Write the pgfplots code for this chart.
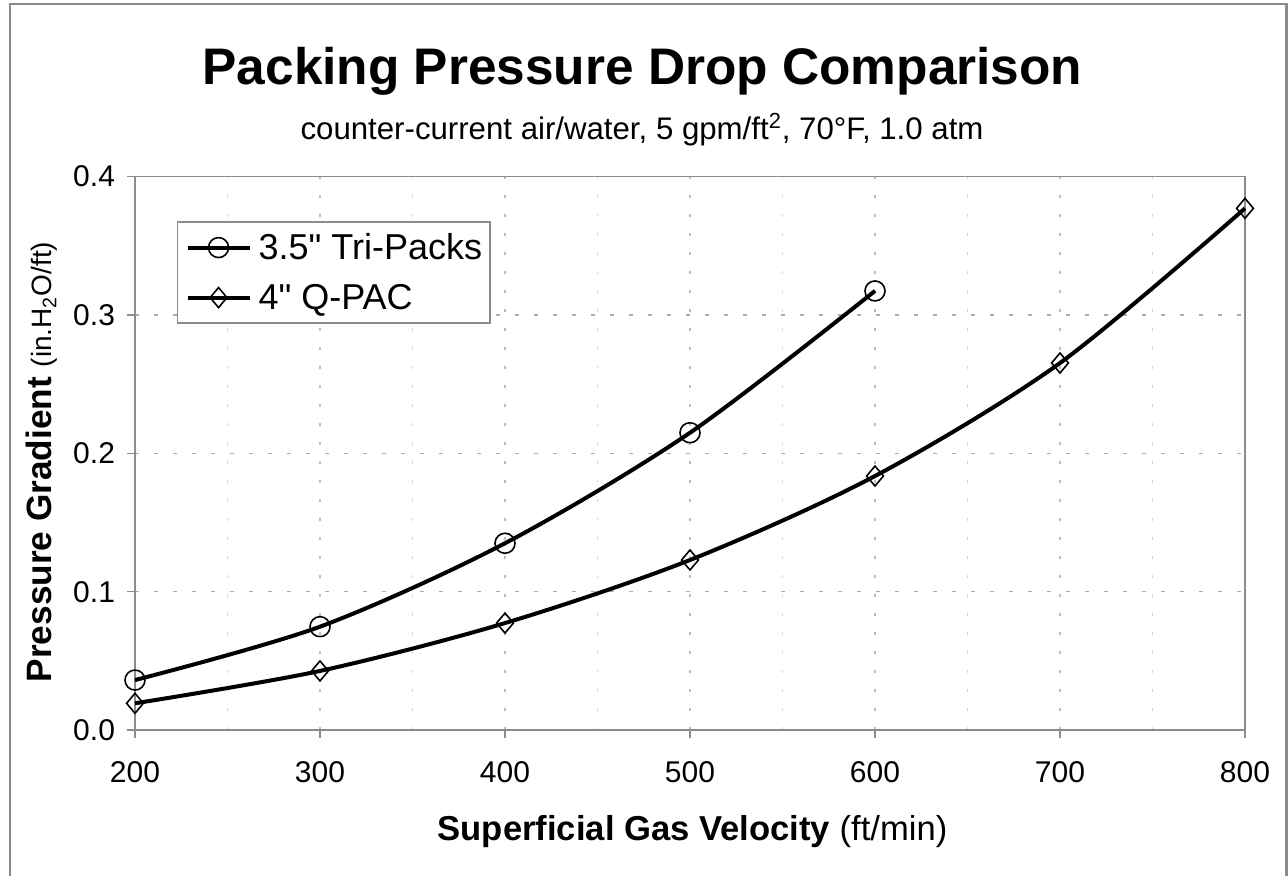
\documentclass[border=0pt]{standalone}
\usepackage{fontspec}
\setmainfont{Liberation Sans}[Ligatures=TeXOff]
\usepackage{pgfplots}
\pgfplotsset{compat=1.18}

\definecolor{axgray}{HTML}{8C8C8C}
\definecolor{gridmaj}{HTML}{ABABAB}
\definecolor{gridxmaj}{HTML}{BDBDBD}
\definecolor{gridmin}{HTML}{D5D5D5}

\begin{document}
\begin{tikzpicture}
\useasboundingbox (-67.5pt,-72.5pt) rectangle (576.5pt,365pt);
\fill[white] (-67.5pt,-72.5pt) rectangle (576.5pt,365pt);
\draw[axgray, line width=1.3pt] (-62.5pt,-80pt) -- (-62.5pt,363pt) -- (575.8pt,363pt) -- (575.8pt,-80pt);
\begin{axis}[
  at={(0,0)}, anchor=south west,
  width=555pt, height=276.67pt, scale only axis,
  xmin=200, xmax=800, ymin=0, ymax=0.4,
  clip=false,
  xtick={200,300,400,500,600,700,800},
  minor xtick={250,350,450,550,650,750},
  ytick={0,0.1,0.2,0.3,0.4},
  yticklabel style={/pgf/number format/fixed, /pgf/number format/fixed zerofill, /pgf/number format/precision=1, xshift=-2.5pt},
  /pgf/number format/assume math mode=true,
  ticklabel style={font=\fontsize{15}{17}\selectfont},
  xticklabel style={yshift=-8pt},
  tick pos=left,
  tick align=outside,
  major tick length=4pt,
  minor tick length=0pt,
  tick style={axgray, line width=0.7pt},
  axis line style={axgray, line width=0.7pt},
  xmajorgrids, xminorgrids, ymajorgrids,
  major x grid style={gridxmaj, line width=0.6pt, dash pattern=on 1.6pt off 7.9pt},
  minor x grid style={gridmin, line width=0.6pt, dash pattern=on 1.6pt off 7.9pt},
  major y grid style={gridmaj, line width=0.6pt, dash pattern=on 2pt off 7.5pt},
  legend style={at={(0.0378,0.919)}, anchor=north west, draw=axgray, line width=0.6pt,
    fill=white, font=\fontsize{18}{20}\selectfont, inner xsep=4pt, inner ysep=0.25pt,
    row sep=0pt, column sep=3.5pt,
    nodes={inner sep=0pt, text height=18.5pt, text depth=6.5pt}},
  legend cell align=left,
  legend image code/.code={\draw[mark repeat=2,mark phase=2] plot coordinates {(-2pt,0pt)(13.5pt,0pt)(29pt,0pt)};},
]
\addplot[black, line width=2pt, smooth, mark=o, mark size=5pt, mark options={line width=0.8pt, solid}]
  coordinates {(200,0.0361)(300,0.0747)(400,0.135)(500,0.2149)(600,0.3174)};
\addlegendentry{3.5" Tri-Packs}
\addplot[black, line width=2pt, smooth, mark=diamond, mark size=5pt, mark options={line width=0.8pt, solid, xscale=1.12}]
  coordinates {(200,0.0193)(300,0.0427)(400,0.0773)(500,0.1229)(600,0.1836)(700,0.2653)(800,0.3771)};
\addlegendentry{4" Q-PAC}
\end{axis}
\node[anchor=base, font=\fontsize{25.7}{30}\selectfont\bfseries] at (253.75pt,323pt) {Packing Pressure Drop Comparison};
\node[anchor=base, font=\fontsize{15.6}{18}\selectfont] at (253.5pt,295.5pt) {counter-current air/water, 5 gpm/ft\textsuperscript{2}, 70°F, 1.0 atm};
\node[anchor=base, font=\fontsize{17.3}{20}\selectfont] at (278.75pt,-55pt) {\textbf{Superficial Gas Velocity} (ft/min)};
\node[anchor=base, rotate=90, font=\fontsize{17.6}{20}\selectfont] at (-41.5pt,134pt) {\textbf{Pressure Gradient} {\fontsize{14}{16}\selectfont (in.H\textsubscript{2}O/ft)}};
\end{tikzpicture}
\end{document}
